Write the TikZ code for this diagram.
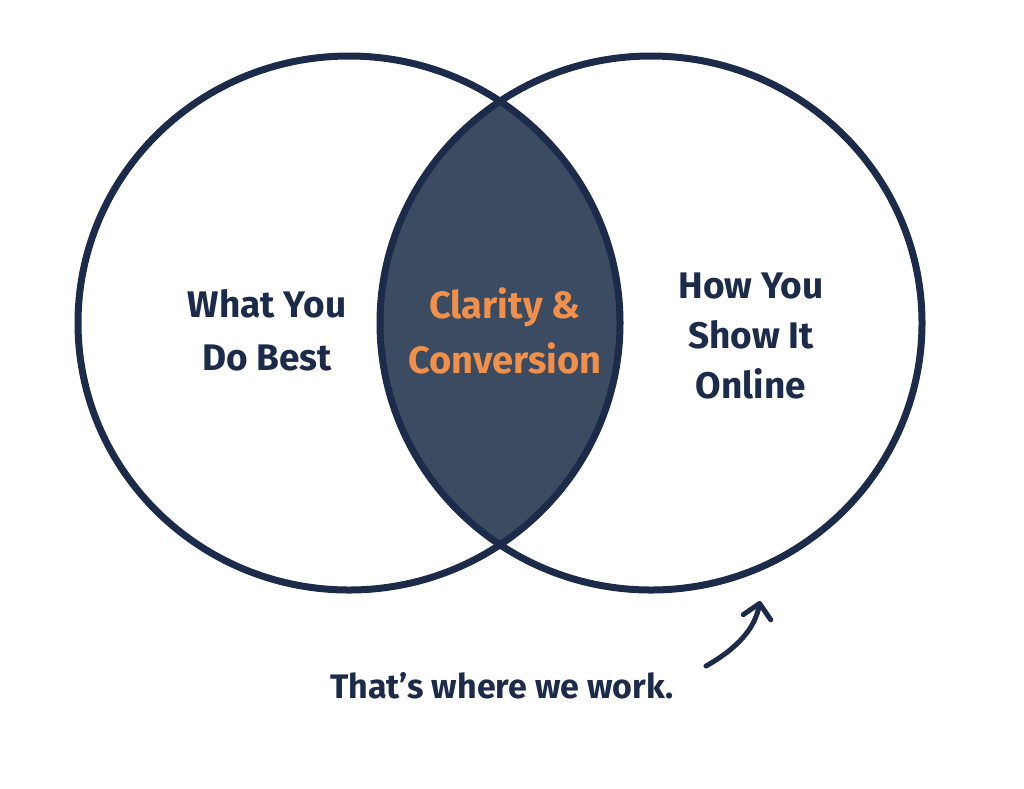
\documentclass[tikz,border=0pt]{standalone}
\usepackage{fontspec}
\setmainfont{Fira Sans}
\usetikzlibrary{arrows.meta}
\definecolor{navy}{HTML}{1C2B4A}
\definecolor{slate}{HTML}{3B4B62}
\definecolor{accent}{HTML}{F0904A}
\begin{document}
\begin{tikzpicture}[x=1pt,y=-1pt,
  ring/.style={draw=navy,line width=7pt},
  lbl/.style={text=navy,font=\bfseries\fontsize{37}{53}\selectfont,align=center,inner sep=0pt},
  midlbl/.style={text=accent,font=\bfseries\fontsize{38}{55}\selectfont,align=center,inner sep=0pt},
  caption/.style={text=navy,font=\bfseries\fontsize{34}{40}\selectfont,inner sep=0pt},
  pointer/.style={draw=navy,line width=5pt,line cap=round,-{Straight Barb[length=14pt,width=28pt,line width=5pt,round]}}]
\useasboundingbox (0,0) rectangle (1024,788);
\fill[white] (0,0) rectangle (1024,788);
% lens
\begin{scope}
  \clip (349,323) ellipse [x radius=271, y radius=267];
  \fill[slate] (651,323) ellipse [x radius=271, y radius=267];
\end{scope}
\draw[ring] (349,323) ellipse [x radius=271, y radius=267];
\draw[ring] (651,323) ellipse [x radius=271, y radius=267];
\node[lbl] (left) at (267,330) {What You\\Do Best};
\node[midlbl] (mid) at (505,331) {Clarity \&\\Conversion};
\node[lbl,font=\bfseries\fontsize{37}{50}\selectfont] (right) at (751,336) {How You\\Show It\\Online};
\node[caption] (cap) at (502,686) {That’s where we work.};
\coordinate (tail) at (706,666);
\coordinate (tip) at (760,601);
\draw[pointer] (tail) .. controls (738,648) and (755,628) .. (tip);
\end{tikzpicture}
\end{document}
